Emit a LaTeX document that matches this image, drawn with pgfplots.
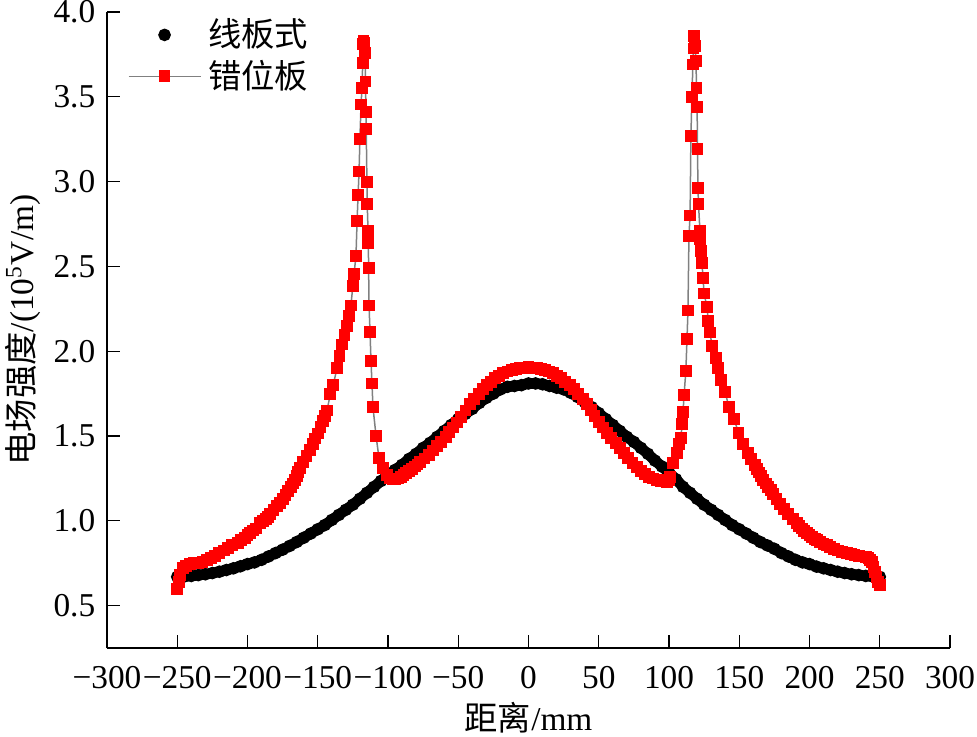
\documentclass[border=0pt]{standalone}
\usepackage{fontspec}
\setmainfont{Liberation Serif}
\newfontfamily\cjk{Noto Sans CJK SC}
\usepackage{pgfplots}
\usepackage{pgfplotstable}
\pgfplotsset{compat=1.18}

\pgfplotstableread{
x y
-250 0.670
-245 0.672
-240 0.675
-235 0.680
-230 0.685
-225 0.692
-220 0.700
-215 0.710
-210 0.720
-205 0.732
-200 0.745
-195 0.755
-190 0.770
-185 0.790
-180 0.810
-175 0.830
-170 0.852
-165 0.875
-160 0.900
-155 0.925
-150 0.950
-145 0.975
-140 1.005
-135 1.035
-130 1.065
-125 1.095
-120 1.130
-115 1.165
-110 1.200
-105 1.235
-100 1.270
-95 1.300
-90 1.330
-85 1.365
-80 1.395
-75 1.430
-70 1.460
-65 1.495
-60 1.530
-55 1.565
-50 1.600
-45 1.630
-40 1.660
-35 1.695
-30 1.725
-25 1.750
-20 1.775
-15 1.790
-10 1.795
-5 1.800
0 1.810
5 1.810
10 1.805
15 1.795
20 1.785
25 1.775
30 1.755
35 1.730
40 1.700
45 1.670
50 1.635
55 1.600
60 1.565
65 1.530
70 1.495
75 1.465
80 1.430
85 1.395
90 1.355
95 1.320
100 1.285
105 1.245
110 1.200
115 1.165
120 1.130
125 1.095
130 1.065
135 1.035
140 1.005
145 0.975
150 0.950
155 0.925
160 0.900
165 0.875
170 0.855
175 0.835
180 0.810
185 0.790
190 0.770
195 0.755
200 0.745
205 0.730
210 0.720
215 0.710
220 0.700
225 0.692
230 0.685
235 0.680
240 0.675
245 0.672
250 0.670
}\linetable

\pgfplotstableread{
x y
-250 0.60
-249 0.64
-248 0.68
-246 0.72
-244 0.735
-241 0.745
-238 0.75
-235 0.753
-232 0.757
-229 0.767
-226 0.78
-223 0.795
-220 0.81
-217 0.825
-214 0.84
-211 0.855
-207 0.87
-204.5 0.885
-202 0.90
-200 0.915
-198 0.93
-196 0.943
-194 0.955
-191 0.985
-189 1.0
-187 1.01
-185.5 1.025
-184 1.04
-181.5 1.063
-179 1.085
-177 1.107
-175 1.13
-173 1.152
-171 1.175
-169.3 1.197
-167.6 1.22
-166.3 1.243
-165 1.265
-163.8 1.287
-162.6 1.31
-160.3 1.345
-158 1.38
-155.7 1.418
-153.4 1.455
-151.7 1.485
-150 1.515
-148 1.553
-146 1.59
-144.7 1.62
-143.4 1.65
-141 1.75
-139 1.80
-136.3 1.90
-134.5 1.97
-132.7 2.04
-131 2.095
-129.2 2.15
-127.8 2.21
-126.4 2.27
-125 2.385
-124.2 2.455
-122.8 2.56
-122 2.77
-121.3 2.92
-120.6 3.06
-120 3.25
-119.2 3.455
-118.5 3.55
-118 3.70
-117.8 3.81
-117.4 3.83
-116.8 3.82
-116.4 3.76
-116 3.59
-115.7 3.41
-115.5 3.31
-115 3.00
-114.8 2.87
-114.2 2.71
-114 2.64
-113.8 2.49
-113.5 2.27
-112.8 2.115
-112.1 1.94
-111.4 1.81
-110.7 1.67
-108.5 1.50
-106.4 1.37
-103.6 1.31
-101 1.27
-98.5 1.25
-96.4 1.245
-94.7 1.247
-93 1.25
-91 1.26
-89 1.27
-87 1.282
-85 1.295
-83 1.307
-81 1.32
-79 1.332
-77 1.345
-74 1.367
-71 1.39
-68 1.415
-65 1.44
-62 1.467
-59 1.495
-56.3 1.522
-53.7 1.55
-50.8 1.58
-48 1.61
-44.8 1.65
-41.6 1.69
-38.5 1.72
-35.5 1.75
-32.5 1.775
-29.5 1.80
-26.7 1.82
-24 1.84
-21 1.855
-18.2 1.87
-15 1.88
-12 1.89
-9 1.897
-6 1.90
-3 1.903
0 1.905
3 1.903
6 1.90
9 1.897
12 1.89
14.7 1.88
17.4 1.87
20.2 1.855
23 1.84
26.2 1.82
29.5 1.80
32.5 1.775
35.5 1.75
38.5 1.72
41.6 1.69
44.3 1.655
47 1.62
50 1.585
53 1.55
56 1.52
59 1.49
62 1.46
65 1.43
68 1.40
71 1.37
74 1.342
77.2 1.315
80 1.295
83 1.275
86 1.26
88.6 1.25
91.3 1.242
94 1.235
96.3 1.232
98.6 1.23
100 1.24
101 1.26
102.8 1.34
105.7 1.40
107 1.455
108.5 1.49
109.3 1.57
110 1.64
110.7 1.74
112 1.885
112.8 2.07
113.5 2.24
114.2 2.68
115 2.80
115.6 3.27
116.3 3.50
117 3.69
117.4 3.785
117.8 3.86
118.5 3.80
119.2 3.71
119.6 3.55
120 3.44
120.3 3.19
120.6 2.96
121 2.87
122 2.71
122.3 2.66
122.7 2.59
123.5 2.52
124.2 2.43
125 2.34
127 2.26
128 2.18
129.2 2.11
130.6 2.03
133.4 1.96
134.9 1.90
137 1.83
139.9 1.76
142.7 1.67
146.3 1.60
149.5 1.52
152.7 1.455
156 1.40
158.5 1.365
161 1.33
162.5 1.307
164 1.285
165.5 1.262
167 1.24
168.8 1.22
170.5 1.20
172.3 1.18
174 1.16
176.5 1.13
179 1.10
182 1.07
184.7 1.04
188 1.012
191 0.985
192.8 0.97
194.5 0.955
196.3 0.942
198 0.93
200 0.917
202 0.905
203.7 0.895
205.3 0.885
207.6 0.875
210 0.865
212.3 0.855
214.6 0.845
217.3 0.835
220 0.825
223.3 0.817
226.7 0.81
229.3 0.805
232 0.80
235 0.795
238 0.79
240 0.785
242 0.78
243.3 0.77
244.5 0.755
245.6 0.73
246.6 0.70
247.7 0.67
248.8 0.64
250 0.62
}\offsettable

\begin{document}
\begin{tikzpicture}
\begin{axis}[
  at={(0,0)}, anchor=south west,
  scale only axis,
  width=252.9pt, height=190.8pt,
  xmin=-300, xmax=300, ymin=0.25, ymax=4.0,
  axis lines=left,
  axis line style={-, line width=0.45pt},
  tick style={black, line width=0.4pt},
  major tick length=4pt,
  tick align=inside,
  xtick={-300,-250,...,300},
  xticklabels={−300,−250,−200,−150,−100,−50,0,50,100,150,200,250,300},
  ytick={0.5,1.0,...,4.0},
  yticklabels={0.5,1.0,1.5,2.0,2.5,3.0,3.5,4.0},
  ticklabel style={font=\fontsize{10}{12}\selectfont},
  xticklabel style={yshift=-2pt},
  every axis x label/.style={at={(axis description cs:0.5,-0.110)},anchor=center},
  every axis y label/.style={at={(axis description cs:-0.0996,0.5)},rotate=90,anchor=center},
  xlabel={\fontsize{10}{12}\selectfont{\cjk 距离}/mm},
  ylabel={\fontsize{10}{12}\selectfont{\cjk 电场强度}/(10\textsuperscript{5}V/m)},
  legend style={draw=none, fill=none, at={(axis description cs:0.012,1.012)}, anchor=north west,
    font=\fontsize{10}{12}\selectfont\cjk, row sep=-1.5pt},
  legend cell align=left,
  legend image code/.code={\draw[mark repeat=2,mark phase=2] plot coordinates {(0cm,0cm) (0.38cm,0cm) (0.76cm,0cm)};},
  clip=false,
]
\addplot[black, line width=3.2pt, forget plot] table[x=x,y=y] {\linetable};
\addplot[only marks, mark=*, mark size=1.7pt, black] table[x=x,y=y] {\linetable};
\addlegendentry{线板式}
\addplot[gray, line width=0.45pt, mark=square*, mark size=1.55pt, mark options={solid, fill=red, draw=red}] table[x=x,y=y] {\offsettable};
\addlegendentry{错位板}
\end{axis}
\pgfresetboundingbox
\path (-32.1pt,-26.4pt) rectangle (261pt,194.4pt);
\end{tikzpicture}
\end{document}
